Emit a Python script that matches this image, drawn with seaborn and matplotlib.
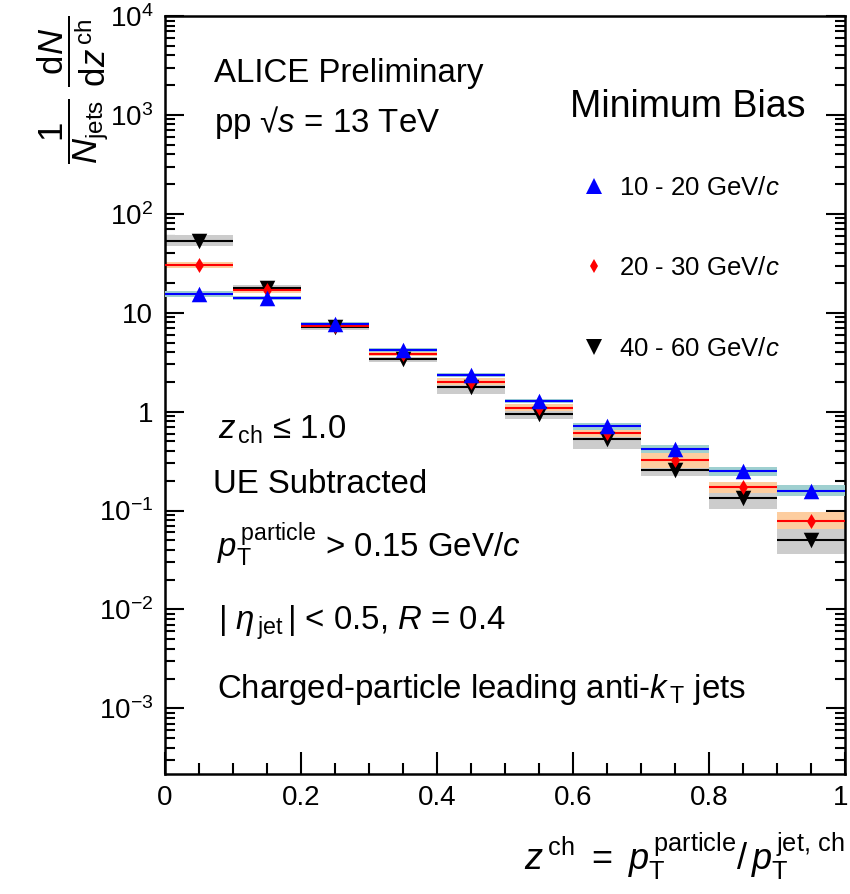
import numpy as np
import pandas as pd
import matplotlib
matplotlib.use("Agg")
import matplotlib.pyplot as plt
import matplotlib.transforms as mtransforms
from matplotlib.lines import Line2D
from matplotlib.ticker import FixedLocator, FuncFormatter, NullFormatter, MultipleLocator
import seaborn as sns

# ---------------- data ----------------
bin_low = [0.0, 0.1, 0.2, 0.3, 0.4, 0.5, 0.6, 0.7, 0.8, 0.9]
bin_high = [0.1, 0.2, 0.3, 0.4, 0.5, 0.6, 0.7, 0.8, 0.9, 1.0]
z_center = [0.05, 0.15, 0.25, 0.35, 0.45, 0.55, 0.65, 0.75, 0.85, 0.95]

label_10_20 = "10 - 20 GeV/$c$"
label_20_30 = "20 - 30 GeV/$c$"
label_40_60 = "40 - 60 GeV/$c$"

val_10_20 = [15.4, 14.2, 7.67, 4.23, 2.34, 1.29, 0.711, 0.416, 0.251, 0.159]
val_20_30 = [30.5, 16.8, 7.4, 3.82, 2.01, 1.10, 0.604, 0.324, 0.172, 0.0792]
val_40_60 = [53.7, 17.7, 7.1, 3.37, 1.79, 0.953, 0.525, 0.259, 0.133, 0.0498]

# relative systematic uncertainties
sys_10_20 = [0.07, 0.05, 0.05, 0.05, 0.04, 0.045, 0.09, 0.10, 0.11, 0.14]
sys_20_30 = [0.07, 0.06, 0.05, 0.05, 0.08, 0.09, 0.09, 0.20, 0.14, 0.23]
sys_40_60 = [0.14, 0.065, 0.06, 0.07, 0.18, 0.14, 0.24, 0.17, 0.27, 0.38]

y_decades = [1e-3, 1e-2, 1e-1, 1, 10, 1e2, 1e3, 1e4]
x_major = [0, 0.2, 0.4, 0.6, 0.8, 1.0]
x_major_labels = ["0", "0.2", "0.4", "0.6", "0.8", "1"]

# ---------------- style ----------------
sns.set_style("ticks")
plt.rcParams["font.family"] = ["Liberation Sans", "DejaVu Sans"]
plt.rcParams["mathtext.fontset"] = "custom"
plt.rcParams["mathtext.rm"] = "Liberation Sans"
plt.rcParams["mathtext.it"] = "Liberation Sans:italic"
plt.rcParams["mathtext.bf"] = "Liberation Sans:bold"
plt.rcParams["mathtext.sf"] = "Liberation Sans"
plt.rcParams["axes.unicode_minus"] = True
for key in ["text.color", "axes.labelcolor", "xtick.color", "ytick.color", "axes.edgecolor"]:
    plt.rcParams[key] = "black"

fig = plt.figure(figsize=(8.5, 8.94), dpi=100)
ax = fig.add_axes([165 / 850, 1 - 774 / 894, 680 / 850, 758 / 894])
ax.set_yscale("log")

MS_TRI = 125
MS_DIA = 58
series = [
    # (values, sys, line colour, band colour, marker, marker area, label)
    (val_40_60, sys_40_60, "black", "#cccccc", "v", MS_TRI, label_40_60),
    (val_20_30, sys_20_30, "red", "#fdcd9f", "d", MS_DIA, label_20_30),
    (val_10_20, sys_10_20, "blue", "#9fd0d0", "^", MS_TRI, label_10_20),
]

# systematic bands
for k, (vals, sysr, lc, bc, mk, ms, lab) in enumerate(series):
    v = np.array(vals)
    e = np.array(sysr)
    lo = v / (1 + e)
    hi = v * (1 + e)
    ax.bar(z_center, hi - lo, bottom=lo, width=0.1, color=bc, linewidth=0,
           zorder=1 + k, align="center")

# horizontal bin lines
for k, (vals, sysr, lc, bc, mk, ms, lab) in enumerate(series):
    ax.hlines(vals, bin_low, bin_high, colors=lc, linewidth=1.5, zorder=5)

# markers via seaborn
for k, (vals, sysr, lc, bc, mk, ms, lab) in enumerate(series):
    df = pd.DataFrame({"z": z_center, "val": vals})
    sns.scatterplot(data=df, x="z", y="val", marker=mk, s=ms, color=lc,
                    linewidth=0, ax=ax, zorder=10 + k, legend=False)

# ---------------- axes ----------------
ax.set_xlim(0, 1)
ax.set_ylim(2.17e-4, 1e4)

ax.set_xticks(x_major)
ax.set_xticklabels(x_major_labels)
ax.xaxis.set_minor_locator(MultipleLocator(0.05))


def yfmt(v, pos):
    e = int(round(np.log10(v)))
    if e == 0:
        return "1"
    if e == 1:
        return "10"
    return r"$10^{%d}$" % e


ax.yaxis.set_major_locator(FixedLocator(y_decades))
ax.yaxis.set_major_formatter(FuncFormatter(yfmt))
minors = [m * d for d in [1e-4, 1e-3, 1e-2, 1e-1, 1, 10, 100, 1000] for m in range(2, 10)]
ax.yaxis.set_minor_locator(FixedLocator(minors))
ax.yaxis.set_minor_formatter(NullFormatter())

ax.tick_params(axis="x", which="major", direction="in", length=16, width=1.5,
               labelsize=20, pad=8, top=False)
ax.tick_params(axis="x", which="minor", direction="in", length=8, width=1.5, top=False)
ax.tick_params(axis="y", which="major", direction="in", length=14, width=1.5,
               labelsize=20, pad=8.5, right=True)
ax.tick_params(axis="y", which="minor", direction="in", length=7, width=1.5, right=True)
for s in ax.spines.values():
    s.set_linewidth(1.8)
    s.set_color("black")

# keep the last x tick label inside the canvas
last = ax.get_xticklabels()[-1]
last.set_transform(last.get_transform() +
                   mtransforms.ScaledTranslation(-4 / 100, 0, fig.dpi_scale_trans))

ax.set_xlabel(r"$z^{\,\mathrm{ch}}\ =\ p_{\mathrm{T}}^{\,\mathrm{particle}}/\,p_{\mathrm{T}}^{\,\mathrm{jet,\,ch}}$",
              fontsize=26, loc="right")
ax.xaxis.set_label_coords(1.0, -0.074)
ax.set_ylabel(r"$\dfrac{1}{N_{\mathrm{jets}}}\ \dfrac{\mathrm{d}N}{\mathrm{d}z^{\,\mathrm{ch}}}$",
              fontsize=25, loc="top")
ax.yaxis.set_label_coords(-0.080, 1.0)

# ---------------- texts ----------------
T = dict(transform=ax.transAxes, va="baseline", ha="left", fontsize=23.8)
ax.text(0.072, 0.9133, "ALICE Preliminary", **T)
ax.text(0.072, 0.8474, "pp √$s$ = 13 TeV", **T)
ax.text(0.5956, 0.8672, "Minimum Bias", transform=ax.transAxes, va="baseline",
        ha="left", fontsize=27)
ax.text(0.078, 0.4430, r"$z_{\,\mathrm{ch}}$ ≤ 1.0", **T)
ax.text(0.0706, 0.3707, "UE Subtracted", **T)
ax.text(0.076, 0.2863, r"$p_{\mathrm{T}}^{\,\mathrm{particle}}$ > 0.15 GeV/$c$", **T)
ax.text(0.078, 0.190, r"$|\ \eta_{\,\mathrm{jet}}\,|$ < 0.5, $R$ = 0.4", **T)
ax.text(0.076, 0.1003, r"Charged-particle leading anti-$k_{\,\mathrm{T}}$ jets", **T)

# ---------------- legend ----------------
handles = [
    Line2D([], [], ls="none", marker="^", color="blue", markersize=np.sqrt(MS_TRI), markeredgewidth=0),
    Line2D([], [], ls="none", marker="d", color="red", markersize=np.sqrt(MS_DIA), markeredgewidth=0),
    Line2D([], [], ls="none", marker="v", color="black", markersize=np.sqrt(MS_TRI), markeredgewidth=0),
]
ax.legend(handles, [label_10_20, label_20_30, label_40_60], loc="upper left",
          bbox_to_anchor=(0.612, 0.789), frameon=False, fontsize=18.5,
          handlelength=1.0, handletextpad=0.46, labelspacing=2.2,
          borderpad=0, borderaxespad=0)

fig.savefig("out.png", dpi=100)
